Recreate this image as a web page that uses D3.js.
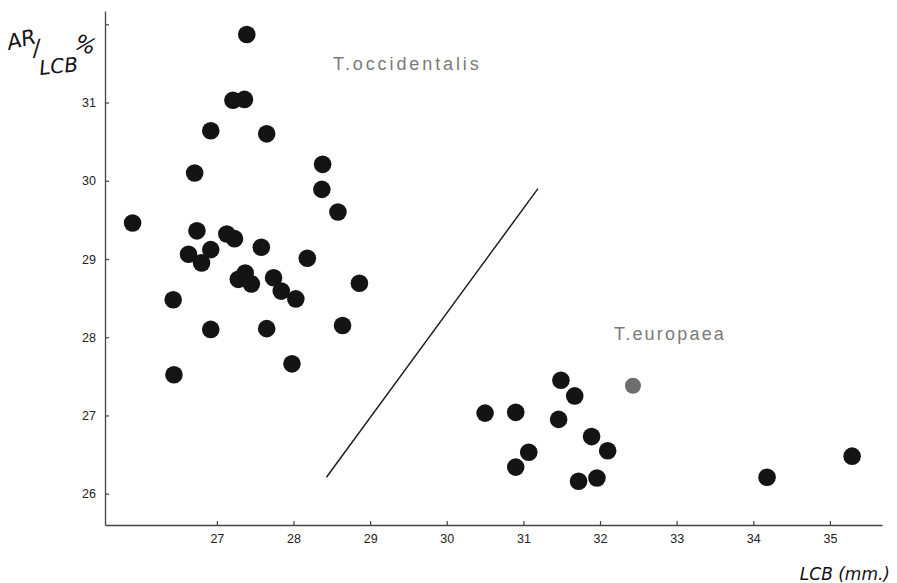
<!DOCTYPE html>
<html>
<head>
<meta charset="utf-8">
<script src="https://cdn.jsdelivr.net/npm/d3@7"></script>
<style>
  html, body { margin: 0; padding: 0; background: #fff; }
  svg { display: block; }
</style>
</head>
<body>
<svg id="chart" width="897" height="583"></svg>
<script>
// LCB (mm) and AR/LCB (%) for the two groups
const occidentalisLCB = [27.39, 27.21, 27.36, 26.92, 27.65, 26.71, 28.38, 28.37, 28.58, 25.90,
  26.74, 27.13, 27.23, 26.92, 26.63, 26.80, 27.58, 28.18, 27.37, 27.28,
  27.45, 27.74, 27.84, 28.03, 28.86, 26.43, 26.92, 27.65, 28.64, 27.98, 26.44];
const occidentalisRatio = [31.87, 31.03, 31.04, 30.64, 30.60, 30.10, 30.21, 29.89, 29.60, 29.46,
  29.36, 29.32, 29.26, 29.12, 29.06, 28.95, 29.15, 29.01, 28.82, 28.74,
  28.68, 28.76, 28.59, 28.49, 28.69, 28.48, 28.10, 28.11, 28.15, 27.66, 27.52];

const europaeaLCB = [31.49, 31.67, 30.50, 30.90, 31.46, 31.89, 32.10, 31.07, 30.90, 31.72, 31.96, 34.18, 35.29];
const europaeaRatio = [27.45, 27.25, 27.03, 27.04, 26.95, 26.73, 26.55, 26.53, 26.34, 26.16, 26.20, 26.21, 26.48];

// a single lighter specimen
const greyLCB = [32.43];
const greyRatio = [27.38];

// separating line endpoints [LCB, ratio]
const dividerLCB = [28.43, 31.19];
const dividerRatio = [26.21, 29.90];

const xTicks = [27, 28, 29, 30, 31, 32, 33, 34, 35];
const yTicks = [26, 27, 28, 29, 30, 31, 32];
const yTickLabels = ["26", "27", "28", "29", "30", "31", ""];

const svg = d3.select("#chart");
const W = 897, H = 583;
const margin = { top: 11, right: 15, bottom: 58, left: 105 };

const x = d3.scaleLinear().domain([25.54, 35.68]).range([margin.left, W - margin.right]);
const y = d3.scaleLinear().domain([25.60, 32.17]).range([H - margin.bottom, margin.top]);

const tickFont = "Liberation Sans, Arial, sans-serif";

// axes
const yAxis = d3.axisLeft(y)
  .tickValues(yTicks)
  .tickFormat((d, i) => yTickLabels[i])
  .tickSizeInner(-4).tickSizeOuter(0).tickPadding(9);
const xAxis = d3.axisBottom(x)
  .tickValues(xTicks)
  .tickFormat(d3.format("d"))
  .tickSizeInner(-4).tickSizeOuter(0).tickPadding(9);

const gy = svg.append("g").attr("transform", `translate(${margin.left},0)`).call(yAxis);
const gx = svg.append("g").attr("transform", `translate(0,${H - margin.bottom})`).call(xAxis);

[gx, gy].forEach(g => {
  g.select(".domain").attr("stroke", "#444").attr("stroke-width", 1.3);
  g.selectAll(".tick line").attr("stroke", "#444").attr("stroke-width", 1.2);
  g.selectAll(".tick text")
    .attr("fill", "#222")
    .style("font-family", tickFont)
    .style("font-size", "12.5px");
});

// divider line
svg.append("line")
  .attr("x1", x(dividerLCB[0])).attr("y1", y(dividerRatio[0]))
  .attr("x2", x(dividerLCB[1])).attr("y2", y(dividerRatio[1]))
  .attr("stroke", "#1a1a1a").attr("stroke-width", 1.4);

// points
const occ = occidentalisLCB.map((v, i) => ({ lcb: v, r: occidentalisRatio[i] }));
const eur = europaeaLCB.map((v, i) => ({ lcb: v, r: europaeaRatio[i] }));
const grey = greyLCB.map((v, i) => ({ lcb: v, r: greyRatio[i] }));

svg.append("g").selectAll("circle").data(occ.concat(eur)).join("circle")
  .attr("cx", d => x(d.lcb)).attr("cy", d => y(d.r))
  .attr("r", 8.8).attr("fill", "#141414");

svg.append("g").selectAll("circle").data(grey).join("circle")
  .attr("cx", d => x(d.lcb)).attr("cy", d => y(d.r))
  .attr("r", 8).attr("fill", "#6e6e6e");

// group names
const nameFont = "Liberation Sans, Arial, sans-serif";
svg.append("text").attr("x", 333).attr("y", 70)
  .text("T.occidentalis")
  .attr("fill", "#7a7a7a").style("font-family", nameFont).style("font-size", "18px")
  .style("letter-spacing", "2.9px");
svg.append("text").attr("x", 614).attr("y", 340)
  .text("T.europaea")
  .attr("fill", "#7a7a7a").style("font-family", nameFont).style("font-size", "18px")
  .style("letter-spacing", "2.2px");

// axis titles (hand-lettered look)
const handFont = "DejaVu Sans, sans-serif";
const yTitle = svg.append("g").attr("fill", "#111").style("font-family", handFont).style("font-style", "italic");
yTitle.append("text").attr("transform", "translate(9,50) rotate(-14)").style("font-size", "21px").text("AR");
yTitle.append("text").attr("transform", "translate(34,56) rotate(-10)").style("font-size", "22px").text("/");
yTitle.append("text").attr("transform", "translate(40,75) rotate(-6)").style("font-size", "20px").text("LCB");
yTitle.append("text").attr("transform", "translate(73,48) rotate(20)").style("font-size", "22px").text("%");

svg.append("text").attr("x", 890).attr("y", 580).attr("text-anchor", "end")
  .attr("fill", "#111").style("font-family", handFont).style("font-style", "italic")
  .style("font-size", "17px").text("LCB (mm.)");
</script>
</body>
</html>
